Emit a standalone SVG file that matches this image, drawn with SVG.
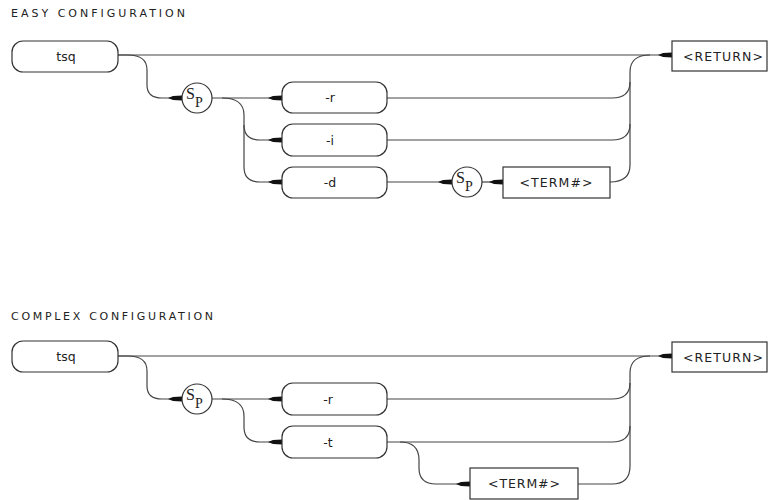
<svg xmlns="http://www.w3.org/2000/svg" width="769" height="500" viewBox="0 0 769 500">
<defs>
<marker id="arr" markerUnits="userSpaceOnUse" markerWidth="16" markerHeight="8" refX="14" refY="4" orient="auto">
<path d="M0,4 L5,2 L14,1.5 L14,6.5 L5,6 Z" fill="#111"/>
</marker>
</defs>
<style>
.bg{fill:#fff}
.ln{fill:none;stroke:#444;stroke-width:1.2}
.box{fill:#fff;stroke:#333;stroke-width:1.2}
.t{font-family:"DejaVu Sans","Liberation Sans",Arial,sans-serif;font-size:12.5px;fill:#222;text-anchor:middle}
.title{font-family:"DejaVu Sans","Liberation Sans",Arial,sans-serif;font-size:11px;fill:#222}
.s{font-family:"Liberation Serif","Times New Roman",serif;fill:#222}
.s1{font-size:16px}
.s2{font-size:14px}
</style>
<rect class="bg" x="0" y="0" width="769" height="500"/>

<text class="title" x="11" y="17" textLength="174" lengthAdjust="spacing">EASY CONFIGURATION</text>
<text class="title" x="11" y="320" textLength="202" lengthAdjust="spacing">COMPLEX CONFIGURATION</text>

<g id="connectors">
<!-- easy -->
<path class="ln" d="M118,55 H672" marker-end="url(#arr)"/>
<path class="ln" d="M118,55 H128 Q147,55 147,70 V85 Q147,98 162,98 H182" marker-end="url(#arr)"/>
<path class="ln" d="M212,98 H282" marker-end="url(#arr)"/>
<path class="ln" d="M222,98 Q244,98 244,115 V125 Q244,140 260,140 H282" marker-end="url(#arr)"/>
<path class="ln" d="M244,125 V167 Q244,182 260,182 H282" marker-end="url(#arr)"/>
<path class="ln" d="M387,98 H612 Q630,98 630,82"/>
<path class="ln" d="M387,140 H612 Q630,140 630,124"/>
<path class="ln" d="M610,182 Q630,182 630,165 V72 Q630,55 650,55"/>
<path class="ln" d="M387,182 H452" marker-end="url(#arr)"/>
<path class="ln" d="M482,182 H503" marker-end="url(#arr)"/>
<!-- complex -->
<path class="ln" d="M118,356 H672" marker-end="url(#arr)"/>
<path class="ln" d="M118,356 H128 Q147,356 147,371 V386 Q147,399 162,399 H182" marker-end="url(#arr)"/>
<path class="ln" d="M212,399 H282" marker-end="url(#arr)"/>
<path class="ln" d="M222,399 Q244,399 244,416 V427 Q244,442 260,442 H282" marker-end="url(#arr)"/>
<path class="ln" d="M387,399 H612 Q630,399 630,383"/>
<path class="ln" d="M387,442 H612 Q630,442 630,426"/>
<path class="ln" d="M400,442 Q419,442 419,460 V468 Q419,484 436,484 H470" marker-end="url(#arr)"/>
<path class="ln" d="M578,484 H612 Q630,484 630,466 V373 Q630,356 650,356"/>
</g>

<!-- EASY nodes -->
<g id="e-tsq"><rect class="box" x="12" y="41" width="106" height="31" rx="11"/><text class="t" x="66" y="61">tsq</text></g>
<g id="e-sp1"><circle class="box" cx="197" cy="98" r="15"/><text class="s s1" x="186" y="99">S</text><text class="s s2" x="195" y="107">P</text></g>
<g id="e-r"><rect class="box" x="282" y="82" width="105" height="31" rx="11"/><text class="t" x="330" y="102">-r</text></g>
<g id="e-i"><rect class="box" x="282" y="124" width="105" height="32" rx="11"/><text class="t" x="330" y="145">-i</text></g>
<g id="e-d"><rect class="box" x="282" y="167" width="105" height="31" rx="11"/><text class="t" x="330" y="187">-d</text></g>
<g id="e-sp2"><circle class="box" cx="467" cy="182" r="15"/><text class="s s1" x="456" y="183">S</text><text class="s s2" x="465" y="191">P</text></g>
<g id="e-term"><rect class="box" x="503" y="167" width="107" height="31"/><text class="t" x="556" y="187" textLength="73" lengthAdjust="spacing">&lt;TERM#&gt;</text></g>
<g id="e-return"><rect class="box" x="672" y="41" width="95" height="30"/><text class="t" x="723" y="61" textLength="80" lengthAdjust="spacing">&lt;RETURN&gt;</text></g>

<!-- COMPLEX nodes -->
<g id="c-tsq"><rect class="box" x="12" y="341" width="106" height="31" rx="11"/><text class="t" x="66" y="361">tsq</text></g>
<g id="c-sp1"><circle class="box" cx="197" cy="399" r="15"/><text class="s s1" x="186" y="400">S</text><text class="s s2" x="195" y="408">P</text></g>
<g id="c-r"><rect class="box" x="282" y="383" width="105" height="32" rx="11"/><text class="t" x="328" y="404">-r</text></g>
<g id="c-t"><rect class="box" x="282" y="426" width="105" height="32" rx="11"/><text class="t" x="328" y="447">-t</text></g>
<g id="c-term"><rect class="box" x="470" y="468" width="108" height="31"/><text class="t" x="524" y="488" textLength="72" lengthAdjust="spacing">&lt;TERM#&gt;</text></g>
<g id="c-return"><rect class="box" x="672" y="342" width="95" height="30"/><text class="t" x="723" y="362" textLength="80" lengthAdjust="spacing">&lt;RETURN&gt;</text></g>
</svg>
